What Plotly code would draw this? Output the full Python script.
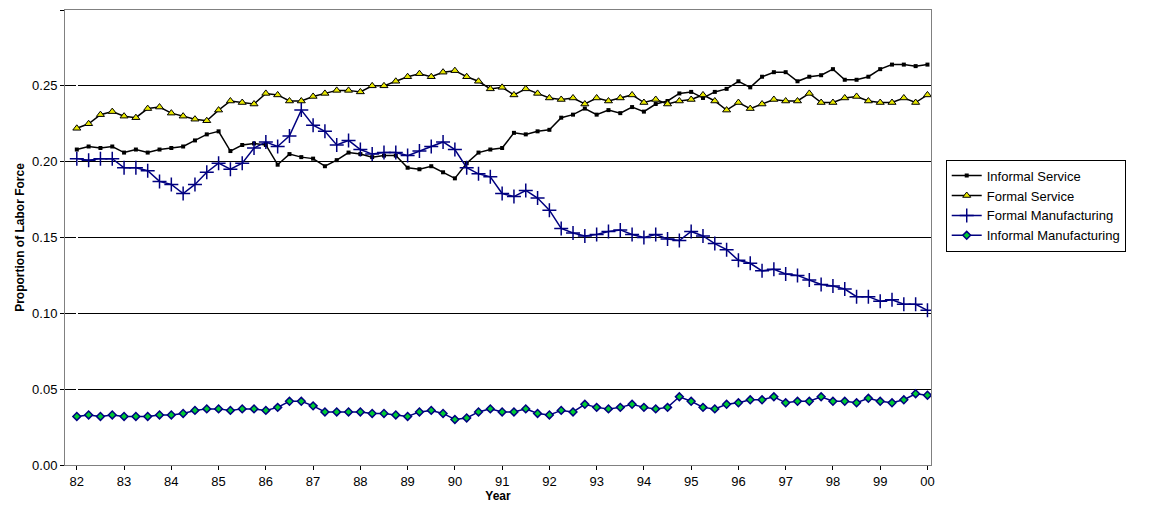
import plotly.graph_objects as go

years = ["82","83","84","85","86","87","88","89","90","91","92","93","94","95","96","97","98","99","00"]
formal_mfg = [.202,.201,.202,.202,.196,.196,.194,.187,.185,.179,.185,.193,.199,.195,.199,.209,.213,.210,.217,.234,
 .224,.220,.211,.214,.208,.205,.206,.206,.204,.207,.210,.213,.208,.196,.192,.190,.179,.177,.181,.176,
 .168,.156,.153,.151,.152,.154,.155,.152,.150,.152,.149,.148,.154,.151,.146,.142,.135,.133,.128,.129,
 .126,.125,.122,.119,.118,.116,.111,.111,.108,.109,.106,.106,.102]
formal_srv = [.222,.225,.231,.233,.230,.229,.235,.236,.232,.230,.228,.227,.234,.240,.239,.238,.245,.244,.240,.240,
 .243,.245,.247,.247,.246,.250,.250,.253,.256,.258,.256,.259,.260,.256,.253,.248,.249,.244,.248,.245,
 .242,.241,.242,.238,.242,.240,.242,.244,.239,.241,.238,.240,.241,.244,.240,.234,.239,.235,.238,.241,
 .240,.240,.245,.239,.239,.242,.243,.240,.239,.239,.242,.239,.244]
informal_srv = [.208,.210,.209,.210,.206,.208,.206,.208,.209,.210,.214,.218,.220,.207,.211,.212,.211,.198,.205,.203,
 .202,.197,.201,.206,.205,.203,.204,.204,.196,.195,.197,.193,.189,.199,.206,.208,.209,.219,.218,.220,
 .221,.229,.231,.235,.231,.234,.232,.236,.233,.238,.240,.245,.246,.242,.246,.248,.253,.249,.256,.259,
 .259,.253,.256,.257,.261,.254,.254,.256,.261,.264,.264,.263,.264]
informal_mfg = [.032,.033,.032,.033,.032,.032,.032,.033,.033,.034,.036,.037,.037,.036,.037,.037,.036,.038,.042,.042,
 .039,.035,.035,.035,.035,.034,.034,.033,.032,.035,.036,.034,.030,.031,.035,.037,.035,.035,.037,.034,
 .033,.036,.035,.040,.038,.037,.038,.040,.038,.037,.038,.045,.042,.038,.037,.040,.041,.043,.043,.045,
 .041,.042,.042,.045,.042,.042,.041,.044,.042,.041,.043,.047,.046]

x = list(range(len(formal_mfg)))
navy = "#000080"
fig = go.Figure()
fig.add_trace(go.Scatter(x=x, y=informal_srv, name="Informal Service", mode="lines+markers",
    line=dict(color="black", width=1.5), marker=dict(symbol="square", size=4, color="black")))
fig.add_trace(go.Scatter(x=x, y=formal_srv, name="Formal Service", mode="lines+markers",
    line=dict(color="black", width=1.5), marker=dict(symbol="triangle-up", size=7, color="#e8e800", line=dict(color="black", width=1))))
fig.add_trace(go.Scatter(x=x, y=formal_mfg, name="Formal Manufacturing", mode="lines+markers",
    line=dict(color=navy, width=1.5), marker=dict(symbol="cross-thin", size=10, color=navy, line=dict(color=navy, width=1.5))))
fig.add_trace(go.Scatter(x=x, y=informal_mfg, name="Informal Manufacturing", mode="lines+markers",
    line=dict(color=navy, width=1.5), marker=dict(symbol="diamond", size=6, color="#00cc33", line=dict(color=navy, width=1.5))))

fig.update_layout(
    width=1165, height=507, margin=dict(l=57, r=242, t=2, b=50),
    plot_bgcolor="white", paper_bgcolor="white",
    font=dict(family="Arial, Liberation Sans", size=13, color="black"),
    legend=dict(x=1.017, y=0.57, xanchor="left", yanchor="middle", bordercolor="black", borderwidth=1,
                font=dict(size=13), tracegroupgap=4),
    xaxis=dict(range=[-1, 72.3], tickvals=list(range(0, 73, 4)), ticktext=years, showgrid=False,
               showline=True, linecolor="#808080", mirror=True, ticks="outside", ticklen=4, tickcolor="black",
               title=dict(text="<b>Year</b>", standoff=0, font=dict(size=12))),
    yaxis=dict(range=[0, 0.30], dtick=0.05, tickformat=".2f", showgrid=True, gridcolor="black", gridwidth=1,
               showline=True, linecolor="#808080", mirror=True, ticks="outside", ticklen=4, tickcolor="black",
               zeroline=False,
               title=dict(text="<b>Proportion of Labor Force</b>", standoff=4, font=dict(size=12))),
)
fig.write_html("out.html")
